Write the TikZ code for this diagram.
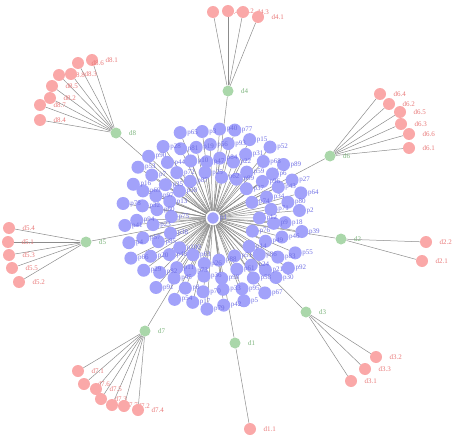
\documentclass[tikz,border=0pt]{standalone}
\usepackage{fontspec}
\setmainfont{Liberation Serif}
\usepackage{tikz}
\usetikzlibrary{backgrounds}
\definecolor{pfill}{RGB}{162,162,250}
\definecolor{ptext}{RGB}{112,112,228}
\definecolor{dfill}{RGB}{170,215,170}
\definecolor{dtext}{RGB}{125,180,125}
\definecolor{rfill}{RGB}{250,168,168}
\definecolor{rtext}{RGB}{232,120,120}
\definecolor{edgegray}{RGB}{140,140,140}

% red leaves: group/index/x/y
\def\leaflist{8/1/92/60, 8/6/78/63, 8/8/59/75, 8/3/71/74, 8/5/52/86, 8/2/50/98, 8/7/40/105, 8/4/40/120,
	4/4/213/12, 4/2/228/11, 4/3/243/12, 4/1/258/17,
	6/4/380/94, 6/2/389/104, 6/5/400/112, 6/3/401/124, 6/6/409/134, 6/1/409/148,
	2/2/426/242, 2/1/422/261,
	3/2/376/357, 3/3/365/369, 3/1/351/381,
	1/1/250/429,
	7/1/78/371, 7/6/84/384, 7/5/96/389, 7/3/101/399, 7/7/112/405, 7/2/124/406, 7/4/138/410,
	5/4/9/228, 5/1/8/242, 5/3/9/255, 5/5/12/268, 5/2/19/282}

\begin{document}
\begin{tikzpicture}[x=1pt, y=-1pt,
	txt/.style={font=\fontsize{7}{8}\selectfont},
	pnode/.style={circle, fill=pfill, minimum size=13pt, inner sep=0pt},
	dnode/.style={circle, fill=dfill, minimum size=11pt, inner sep=0pt},
	rnode/.style={circle, fill=rfill, minimum size=12pt, inner sep=0pt},
	plab/.style={txt, text=ptext, inner sep=1pt, anchor=west},
	dlab/.style={txt, text=dtext, label distance=4pt},
	rlab/.style={txt, text=rtext, label distance=4pt},
	link/.style={draw=edgegray, line width=0.5pt}]
	\useasboundingbox (0,0) rectangle (458,444);

	% hub
	\node[pnode, draw=white, line width=1.5pt] (p1) at (213,218) {};

	% protein rings, slightly shaken
	\foreach \r/\n/\o/\s in {44/18/0/1, 59/24/7/19, 74/27/3/43, 89/30/9/70} {
		\foreach \i in {1,...,\n} {
			\pgfmathtruncatemacro{\id}{\s+\i}
			\pgfmathsetmacro{\rr}{\r+2.5*sin(\id*137)}
			\pgfmathsetmacro{\aa}{\o+360*\i/\n+2*cos(\id*71)}
			\node[pnode] (p\id) at ({213+\rr*cos(\aa)},{218+\rr*sin(\aa)}) {};
		}
	}

	% domains
	\node[dnode, label={[dlab]right:d8}] (d8) at (116,133) {};
	\node[dnode, label={[dlab]right:d4}] (d4) at (228,91) {};
	\node[dnode, label={[dlab]right:d6}] (d6) at (330,156) {};
	\node[dnode, label={[dlab]right:d2}] (d2) at (341,239) {};
	\node[dnode, label={[dlab]right:d3}] (d3) at (306,312) {};
	\node[dnode, label={[dlab]right:d1}] (d1) at (235,343) {};
	\node[dnode, label={[dlab]right:d7}] (d7) at (145,331) {};
	\node[dnode, label={[dlab]right:d5}] (d5) at (86,242) {};

	\foreach \g/\k/\x/\y in \leaflist
		\node[rnode, label={[rlab]right:d\g.\k}] (d\g-\k) at (\x,\y) {};

	% labels on top
	\node[plab] at ([xshift=6pt]p1.center) {p1};
	\foreach \id in {2,...,100} {
		\pgfmathtruncatemacro{\lab}{mod(\id*37,99)+2}
		\node[plab] at ([xshift=6pt]p\id.center) {p\lab};
	}

	\begin{scope}[on background layer]
		\foreach \id in {2,...,100}
			\path (p1) edge[link] (p\id);
		\foreach \g in {1,...,8}
			\path (p1) edge[link] (d\g);
		\foreach \g/\k/\x/\y in \leaflist
			\path (d\g) edge[link] (d\g-\k);
	\end{scope}
\end{tikzpicture}
\end{document}
